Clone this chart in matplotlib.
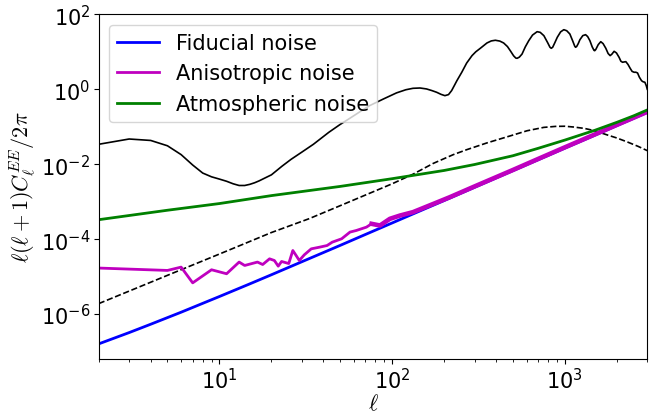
import numpy as np
import matplotlib
matplotlib.use("Agg")
import matplotlib.pyplot as plt

# E-mode CMB spectrum, D_ell in uK^2
ee_ell = [2, 3, 4, 5, 6, 7, 8, 9, 10, 11, 12, 13, 14, 15, 16, 17, 18, 20, 23, 26,
          30, 35, 43, 50, 57, 65, 74, 89, 106, 120, 132, 145, 158, 170, 181, 192,
          202, 212, 221, 230, 237, 253, 270, 290, 305, 324, 354, 375, 396, 420,
          442, 465, 483, 505, 520, 529, 545, 565, 590, 618, 650, 691, 720, 756,
          795, 820, 834, 850, 875, 904, 945, 986, 1025, 1069, 1110, 1140, 1153,
          1170, 1195, 1222, 1270, 1318, 1355, 1396, 1440, 1475, 1489, 1510, 1560,
          1614, 1665, 1726, 1780, 1828, 1870, 1928, 1990, 2061, 2110, 2158, 2200,
          2254, 2320, 2388, 2450, 2518, 2575, 2636, 2700, 2780, 2840, 2905, 2960,
          3000]
ee_dl = [0.034, 0.047, 0.043, 0.031, 0.018, 0.0095, 0.0058, 0.0046, 0.0040,
         0.0035, 0.0030, 0.0027, 0.0027, 0.0029, 0.0032, 0.0036, 0.0041, 0.0052,
         0.0088, 0.0135, 0.021, 0.034, 0.071, 0.115, 0.169, 0.25, 0.365, 0.55,
         0.80, 0.97, 1.06, 1.08, 1.02, 0.92, 0.83, 0.73, 0.675, 0.72, 0.92, 1.3,
         1.69, 2.84, 5.0, 7.9, 10.0, 12.4, 17.2, 19.5, 20.3, 19.3, 17.2, 13.8,
         10.7, 7.8, 6.8, 6.7, 7.2, 8.7, 13.5, 19.8, 28.0, 34.4, 33.0, 26.9, 17.5,
         13.2, 12.4, 13.2, 17.5, 24.4, 34.0, 38.9, 36.5, 29.8, 19.5, 14.2, 13.2,
         13.8, 16.5, 21.0, 27.0, 28.6, 25.5, 19.8, 13.5, 10.9, 10.7, 11.5, 15.5,
         18.6, 16.5, 12.4, 9.0, 7.9, 8.6, 10.3, 9.3, 7.1, 5.6, 5.25, 5.35, 5.45,
         4.6, 3.63, 3.0, 2.84, 2.85, 2.72, 2.1, 1.69, 1.58, 1.54, 1.25, 1.0]

# Lensing B-mode spectrum
bb_ell = [2, 5, 10, 20, 33, 50, 70, 100, 132, 173, 226, 271, 354, 483, 604, 755,
          883, 1000, 1127, 1300, 1475, 1766, 2000, 2306, 2650, 3000]
bb_dl = [1.9e-6, 1.08e-5, 4.0e-5, 1.5e-4, 3.5e-4, 7.8e-4, 1.5e-3, 3.0e-3, 5.4e-3,
         0.0105, 0.018, 0.0245, 0.037, 0.057, 0.078, 0.096, 0.102, 0.103, 0.098,
         0.090, 0.079, 0.060, 0.050, 0.039, 0.030, 0.023]

# Fiducial white noise
fid_ell = [2, 3, 4, 6, 8, 10, 15, 20, 30, 50, 70, 100, 150, 200, 300, 500, 700,
           1000, 1500, 2000, 2500, 3000]
fid_dl = [1.6e-7, 3.2e-7, 5.35e-7, 1.12e-6, 1.93e-6, 2.94e-6, 6.4e-6, 1.12e-5,
          2.49e-5, 6.8e-5, 1.33e-4, 2.7e-4, 6.05e-4, 1.07e-3, 2.41e-3, 6.7e-3,
          0.0131, 0.0268, 0.060, 0.107, 0.167, 0.241]

# Anisotropic noise
aniso_ell = [2, 5, 6, 7, 9, 11, 13, 14, 16.6, 17.8, 19.5, 20.8, 21.9, 22.9, 24.7,
             25.2, 26.6, 27.8, 29, 31, 34, 38, 42, 45, 51, 57, 62, 71, 76, 85, 97,
             111, 132, 173, 216, 300, 500, 700, 1000, 1500, 2000, 2500, 3000]
aniso_dl = [1.69e-5, 1.46e-5, 1.79e-5, 6.8e-6, 1.52e-5, 1.19e-5, 2.44e-5, 1.98e-5,
            2.44e-5, 2.1e-5, 2.98e-5, 2.69e-5, 1.9e-5, 2.53e-5, 2.29e-5, 2.23e-5,
            4.97e-5, 3.65e-5, 2.69e-5, 3.81e-5, 5.5e-5, 6.1e-5, 6.75e-5, 8.3e-5,
            1.02e-4, 1.54e-4, 1.7e-4, 2.09e-4, 2.56e-4, 2.31e-4, 3.48e-4, 4.26e-4,
            5.25e-4, 8.7e-4, 1.32e-3, 2.55e-3, 7.0e-3, 0.0138, 0.0282, 0.063,
            0.112, 0.174, 0.25]

# Atmospheric (1/f + white) noise
atm_ell = [2, 5, 10, 20, 50, 100, 200, 300, 500, 700, 1000, 1500, 2000, 2500, 3000]
atm_dl = [3.3e-4, 5.9e-4, 8.9e-4, 1.45e-3, 2.55e-3, 4.1e-3, 6.8e-3, 9.8e-3,
          0.0168, 0.0265, 0.044, 0.081, 0.131, 0.195, 0.28]

plt.rcParams['mathtext.fontset'] = 'cm'
plt.rcParams['axes.unicode_minus'] = False

fig = plt.figure(figsize=(6.59, 4.14), dpi=100)
ax = fig.add_axes([0.1498, 0.1304, 0.8324, 0.8326])

ax.plot(ee_ell, ee_dl, color='k', lw=1.2)
ax.plot(bb_ell, bb_dl, color='k', ls='--', lw=1.2)
ax.plot(fid_ell, fid_dl, color='b', lw=2, label='Fiducial noise')
ax.plot(aniso_ell, aniso_dl, color='m', lw=2, label='Anisotropic noise')
hi = np.asarray(aniso_ell) >= 76
ax.plot(np.asarray(aniso_ell)[hi], np.asarray(aniso_dl)[hi], color='m', lw=3.3)
ax.plot(atm_ell, atm_dl, color='g', lw=2, label='Atmospheric noise')

ax.set_xscale('log')
ax.set_yscale('log')
ax.set_xlim(2, 3000)
ax.set_ylim(10 ** -7.2, 1e2)
ax.tick_params(labelsize=15, pad=2.5)
ax.set_xlabel(r'$\ell$', fontsize=16, labelpad=0)
ax.set_ylabel(r'$\ell(\ell+1)C_\ell^{EE}/2\pi$', fontsize=16, labelpad=2)
ax.legend(loc='upper left', fontsize=15)

fig.savefig('out.png', dpi=100)
